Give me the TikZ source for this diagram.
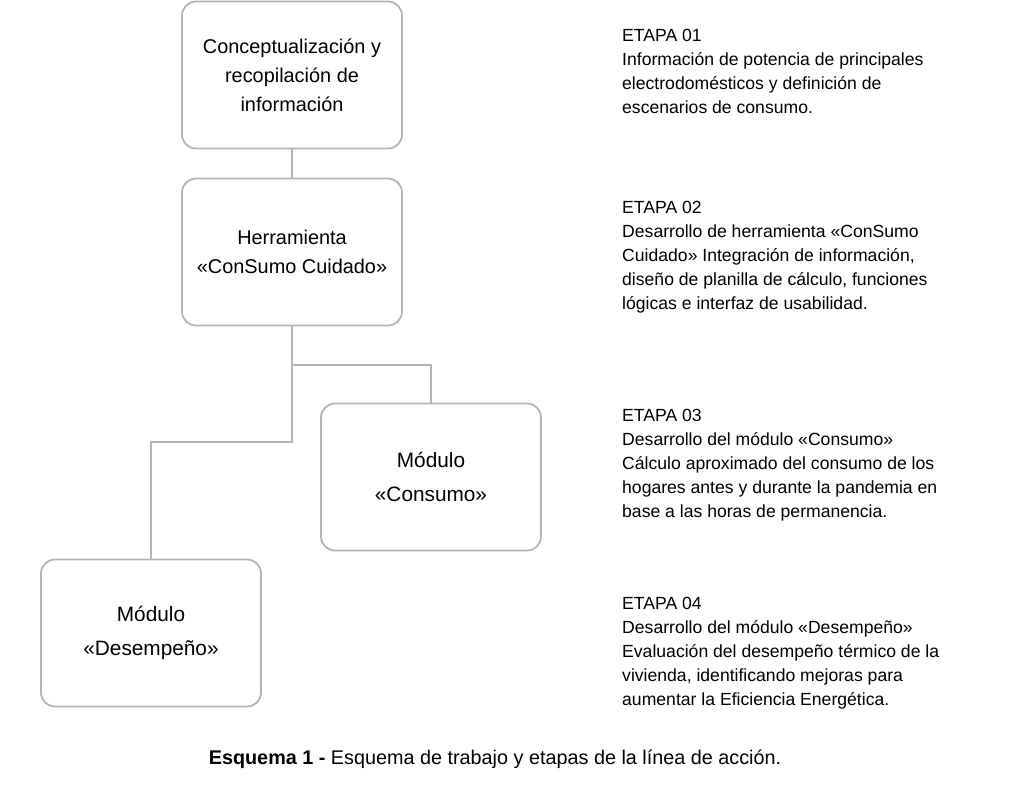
\documentclass[tikz,border=0pt]{standalone}
\usepackage{fontspec}
\setmainfont{Liberation Sans}
\definecolor{linea}{RGB}{180,180,180}
\begin{document}
\begin{tikzpicture}[x=1pt,y=-1pt,
  caja/.style={draw=linea, line width=1.8pt, rounded corners=14pt, minimum width=220pt, minimum height=147pt, align=center, font=\fontsize{19.9}{29}\selectfont},
  modulo/.style={caja, font=\fontsize{20.8}{34}\selectfont},
  etapa/.style={anchor=north west, align=left, inner sep=0pt, font=\fontsize{17.6}{24}\selectfont}]
\useasboundingbox (0,0) rectangle (1024,807);
% cajas
\node[caja] (ci) at (292,75) {Conceptualización y\\recopilación de\\información};
\node[caja] (hc) at (292,252) {Herramienta\\«ConSumo Cuidado»};
\node[modulo] (mc) at (431,477) {Módulo\\«Consumo»};
\node[modulo] (md) at (151,633) {Módulo\\«Desempeño»};
% ramas
\coordinate (r1) at (292,365);
\coordinate (r2) at (292,442);
\draw[linea, line width=1.8pt] (ci.south) -- (hc.north);
\draw[linea, line width=1.8pt] (hc.south) -- (r2) -| (md.north);
\draw[linea, line width=1.8pt] (r1) -| (mc.north);
% etapas
\node[etapa] (e1) at (622,29) {ETAPA 01\\Información de potencia de principales\\electrodomésticos y definición de\\escenarios de consumo.};
\node[etapa] (e2) at (622,201) {ETAPA 02\\Desarrollo de herramienta «ConSumo\\Cuidado» Integración de información,\\diseño de planilla de cálculo, funciones\\lógicas e interfaz de usabilidad.};
\node[etapa] (e3) at (622,409) {ETAPA 03\\Desarrollo del módulo «Consumo»\\Cálculo aproximado del consumo de los\\hogares antes y durante la pandemia en\\base a las horas de permanencia.};
\node[etapa] (e4) at (622,597) {ETAPA 04\\Desarrollo del módulo «Desempeño»\\Evaluación del desempeño térmico de la\\vivienda, identificando mejoras para\\aumentar la Eficiencia Energética.};
% pie
\node[font=\fontsize{19.8}{22}\selectfont] (esq) at (495,759) {\textbf{Esquema 1 -} Esquema de trabajo y etapas de la línea de acción.};
\end{tikzpicture}
\end{document}
